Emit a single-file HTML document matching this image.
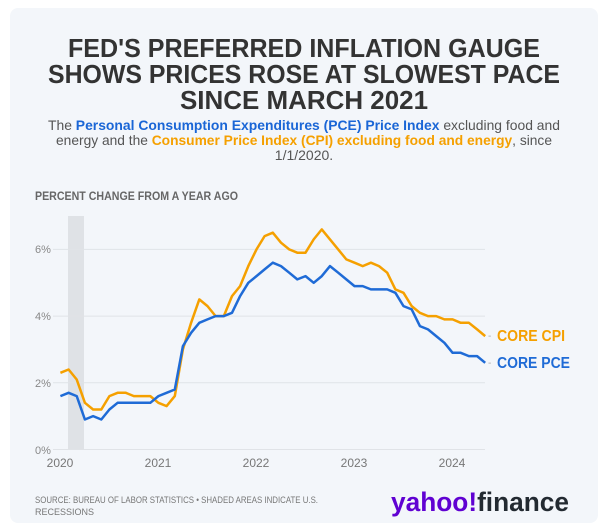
<!DOCTYPE html>
<html><head><meta charset="utf-8"><style>
html,body{margin:0;padding:0;background:#fff;}
svg{display:block;font-family:"Liberation Sans",sans-serif;}
</style></head><body>
<svg width="600" height="528" viewBox="0 0 600 528" xmlns="http://www.w3.org/2000/svg">
<rect x="10" y="8" width="588" height="515" rx="8" fill="#f3f6fa"/>
<g font-weight="bold" fill="#333" font-size="26" text-anchor="middle">
<text x="304" y="57" textLength="472" lengthAdjust="spacingAndGlyphs">FED'S PREFERRED INFLATION GAUGE</text>
<text x="304" y="83" textLength="512" lengthAdjust="spacingAndGlyphs">SHOWS PRICES ROSE AT SLOWEST PACE</text>
<text x="304" y="109" textLength="248" lengthAdjust="spacingAndGlyphs">SINCE MARCH 2021</text>
</g>
<g font-size="14" fill="#555" text-anchor="middle">
<text x="304" y="130" textLength="512" lengthAdjust="spacingAndGlyphs">The <tspan fill="#1a66d6" font-weight="bold">Personal Consumption Expenditures (PCE) Price Index</tspan> excluding food and</text>
<text x="304" y="145" textLength="496" lengthAdjust="spacingAndGlyphs">energy and the <tspan fill="#f5a000" font-weight="bold">Consumer Price Index (CPI) excluding food and energy</tspan>, since</text>
<text x="304" y="160">1/1/2020.</text>
</g>
<text x="35" y="200" font-size="12" font-weight="bold" fill="#666" textLength="203" lengthAdjust="spacingAndGlyphs">PERCENT CHANGE FROM A YEAR AGO</text>
<rect x="68" y="216" width="16" height="233" fill="#dfe2e6"/>
<g stroke="#e0e3e7" stroke-width="1">
<line x1="53" x2="485" y1="249.4" y2="249.4"/>
<line x1="53" x2="485" y1="316.1" y2="316.1"/>
<line x1="53" x2="485" y1="382.8" y2="382.8"/>
<line x1="53" x2="485" y1="449.5" y2="449.5"/>
</g>
<g font-size="11" fill="#888">
<text x="35" y="253">6%</text><text x="35" y="320">4%</text><text x="35" y="387">2%</text><text x="35" y="454">0%</text>
</g>
<g font-size="12" fill="#777" text-anchor="middle">
<text x="60" y="467">2020</text><text x="158" y="467">2021</text><text x="256" y="467">2022</text><text x="354" y="467">2023</text><text x="452" y="467">2024</text>
</g>
<path id="cpi" fill="none" stroke="#f5a000" stroke-width="2.5" stroke-linejoin="round"/>
<path id="pce" fill="none" stroke="#1f6bd6" stroke-width="2.5" stroke-linejoin="round"/>
<text x="488" y="339" font-size="10" fill="#aaa">-</text>
<text x="488" y="366" font-size="10" fill="#aaa">-</text>
<text x="497" y="341" font-size="16" font-weight="bold" fill="#f5a000" textLength="68" lengthAdjust="spacingAndGlyphs">CORE CPI</text>
<text x="497" y="368" font-size="16" font-weight="bold" fill="#1f6bd6" textLength="73" lengthAdjust="spacingAndGlyphs">CORE PCE</text>
<g font-size="9" fill="#777">
<text x="35" y="503" textLength="283" lengthAdjust="spacingAndGlyphs">SOURCE: BUREAU OF LABOR STATISTICS • SHADED AREAS INDICATE U.S.</text>
<text x="35" y="515">RECESSIONS</text>
</g>
<text x="391" y="511" font-size="27" font-weight="bold" textLength="178" lengthAdjust="spacingAndGlyphs"><tspan fill="#6001d2">yahoo!</tspan><tspan fill="#232a31">finance</tspan></text>
</svg>
<script>
var cpi=[2.3,2.4,2.1,1.4,1.2,1.2,1.6,1.7,1.7,1.6,1.6,1.6,1.4,1.3,1.6,3.0,3.8,4.5,4.3,4.0,4.0,4.6,4.9,5.5,6.0,6.4,6.5,6.2,6.0,5.9,5.9,6.3,6.6,6.3,6.0,5.7,5.6,5.5,5.6,5.5,5.3,4.8,4.7,4.3,4.1,4.0,4.0,3.9,3.9,3.8,3.8,3.6,3.4];
var pce=[1.6,1.7,1.6,0.9,1.0,0.9,1.2,1.4,1.4,1.4,1.4,1.4,1.6,1.7,1.8,3.1,3.5,3.8,3.9,4.0,4.0,4.1,4.6,5.0,5.2,5.4,5.6,5.5,5.3,5.1,5.2,5.0,5.2,5.5,5.3,5.1,4.9,4.9,4.8,4.8,4.8,4.7,4.3,4.2,3.7,3.6,3.4,3.2,2.9,2.9,2.8,2.8,2.6];
function d(a){return a.map(function(v,i){return (i?'L':'M')+(60.4+i*8.17).toFixed(1)+' '+(449.5-v*33.35).toFixed(1)}).join(' ');}
document.getElementById('cpi').setAttribute('d',d(cpi));
document.getElementById('pce').setAttribute('d',d(pce));
</script>
</body></html>
